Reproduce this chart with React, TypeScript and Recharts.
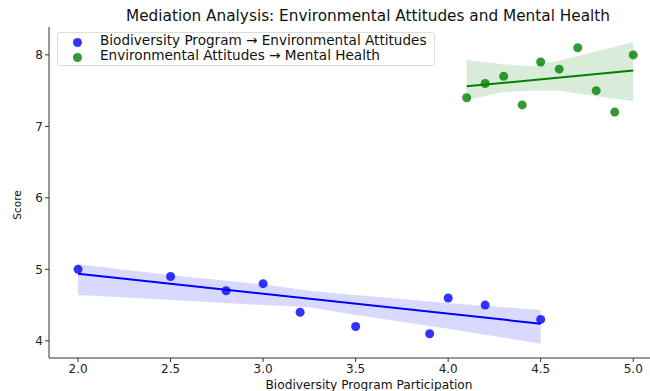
import React from "react"
import {
  ComposedChart,
  Scatter,
  Line,
  Area,
  XAxis,
  YAxis,
} from "recharts"

// ---------------------------------------------------------------------------
// Data
// ---------------------------------------------------------------------------

const blueX = [2.0, 2.5, 2.8, 3.0, 3.2, 3.5, 3.9, 4.0, 4.2, 4.5]
const blueY = [5.0, 4.9, 4.7, 4.8, 4.4, 4.2, 4.1, 4.6, 4.5, 4.3]

const greenX = [4.1, 4.2, 4.3, 4.4, 4.5, 4.6, 4.7, 4.8, 4.9, 5.0]
const greenY = [7.4, 7.6, 7.7, 7.3, 7.9, 7.8, 8.1, 7.5, 7.2, 8.0]

// regression fits
const blueFitX = [2.0, 4.5]
const blueFitY = [4.94, 4.24]
const greenFitX = [4.1, 5.0]
const greenFitY = [7.56, 7.78]

// confidence bands
const blueBandX = [2.0, 2.5, 3.0, 3.25, 3.5, 4.0, 4.5]
const blueBandLo = [4.64, 4.57, 4.5, 4.47, 4.36, 4.17, 3.96]
const blueBandHi = [5.07, 4.92, 4.79, 4.7, 4.64, 4.53, 4.43]

const greenBandX = [4.1, 4.3, 4.45, 4.6, 4.8, 5.0]
const greenBandLo = [7.37, 7.48, 7.5, 7.5, 7.42, 7.35]
const greenBandHi = [7.93, 7.87, 7.84, 7.92, 8.05, 8.18]

const xTicks = [2.0, 2.5, 3.0, 3.5, 4.0, 4.5, 5.0]
const yTicks = [4, 5, 6, 7, 8]

const seriesNames = [
  "Biodiversity Program \u2192 Environmental Attitudes",
  "Environmental Attitudes \u2192 Mental Health",
]

// ---------------------------------------------------------------------------
// Helpers
// ---------------------------------------------------------------------------

const pts = (xs: number[], ys: number[]) => xs.map((x, i) => ({ x, y: ys[i] }))
const band = (xs: number[], lo: number[], hi: number[]) =>
  xs.map((x, i) => ({ x, range: [lo[i], hi[i]] }))

const FONT = "'DejaVu Sans', sans-serif"
const BLUE_PT = "rgba(0,0,255,0.8)"
const GREEN_PT = "rgba(0,128,0,0.8)"

const dot = (fill: string) => (props: any) =>
  <circle cx={props.cx} cy={props.cy} r={4.5} fill={fill} />

const tickStyle = { fill: "#222", fontSize: 12, fontFamily: FONT }

export default function App() {
  return (
    <div
      style={{
        position: "absolute",
        left: 0,
        top: 0,
        width: 650,
        height: 391,
        overflow: "hidden",
        background: "#fff",
        fontFamily: FONT,
      }}
    >
      <div
        style={{
          position: "absolute",
          top: 7,
          left: 68,
          width: 600,
          textAlign: "center",
          fontSize: 15.3,
          color: "#111",
          whiteSpace: "nowrap",
        }}
      >
        Mediation Analysis: Environmental Attitudes and Mental Health
      </div>

      <ComposedChart
        width={662}
        height={391}
        margin={{ top: 27, right: 1, bottom: 13, left: 0 }}
      >
        <XAxis
          type="number"
          dataKey="x"
          domain={[1.843, 5.15]}
          ticks={xTicks}
          tickFormatter={(v) => v.toFixed(1)}
          tick={tickStyle}
          stroke="#333"
          tickSize={4}
          height={20}
          allowDataOverflow
        />
        <XAxis
          xAxisId="top"
          orientation="top"
          type="number"
          domain={[1.843, 5.15]}
          tick={false}
          tickLine={false}
          stroke="#333"
          height={0}
        />
        <YAxis
          type="number"
          dataKey="y"
          domain={[3.76, 8.39]}
          ticks={yTicks}
          tick={tickStyle}
          stroke="#333"
          tickSize={4}
          width={49}
          allowDataOverflow
        />

        <Area
          data={band(blueBandX, blueBandLo, blueBandHi)}
          dataKey="range"
          type="linear"
          stroke="none"
          fill="rgba(0,0,255,0.15)"
          fillOpacity={1}
          isAnimationActive={false}
        />
        <Area
          data={band(greenBandX, greenBandLo, greenBandHi)}
          dataKey="range"
          type="linear"
          stroke="none"
          fill="rgba(0,128,0,0.15)"
          fillOpacity={1}
          isAnimationActive={false}
        />

        <Scatter
          data={pts(blueX, blueY)}
          shape={dot(BLUE_PT)}
          isAnimationActive={false}
        />
        <Scatter
          data={pts(greenX, greenY)}
          shape={dot(GREEN_PT)}
          isAnimationActive={false}
        />

        <Line
          data={pts(blueFitX, blueFitY)}
          dataKey="y"
          type="linear"
          stroke="#0000ff"
          strokeWidth={2}
          dot={false}
          isAnimationActive={false}
        />
        <Line
          data={pts(greenFitX, greenFitY)}
          dataKey="y"
          type="linear"
          stroke="#008000"
          strokeWidth={2}
          dot={false}
          isAnimationActive={false}
        />
      </ComposedChart>

      {/* axis titles */}
      <div
        style={{
          position: "absolute",
          top: 378,
          left: 69,
          width: 600,
          textAlign: "center",
          fontSize: 12.2,
          color: "#111",
          whiteSpace: "nowrap",
        }}
      >
        Biodiversity Program Participation
      </div>
      <div
        style={{
          position: "absolute",
          left: 17,
          top: 205,
          transform: "translate(-50%, -50%) rotate(-90deg)",
          fontSize: 10.5,
          color: "#111",
          whiteSpace: "nowrap",
        }}
      >
        Score
      </div>

      {/* legend */}
      <div
        style={{
          position: "absolute",
          left: 57,
          top: 32,
          width: 376,
          height: 32,
          border: "1px solid #ddd",
          borderRadius: 3,
          background: "rgba(255,255,255,0.8)",
          fontSize: 13.6,
          color: "#111",
        }}
      >
        {seriesNames.map((name, i) => (
          <React.Fragment key={name}>
            <span
              style={{
                position: "absolute",
                left: 15,
                top: 5 + i * 15,
                width: 9,
                height: 9,
                borderRadius: "50%",
                background: i === 0 ? BLUE_PT : GREEN_PT,
              }}
            />
            <div
              style={{
                position: "absolute",
                left: 42,
                top: i * 14.5,
                lineHeight: "15px",
                whiteSpace: "nowrap",
              }}
            >
              {name}
            </div>
          </React.Fragment>
        ))}
      </div>
    </div>
  )
}
